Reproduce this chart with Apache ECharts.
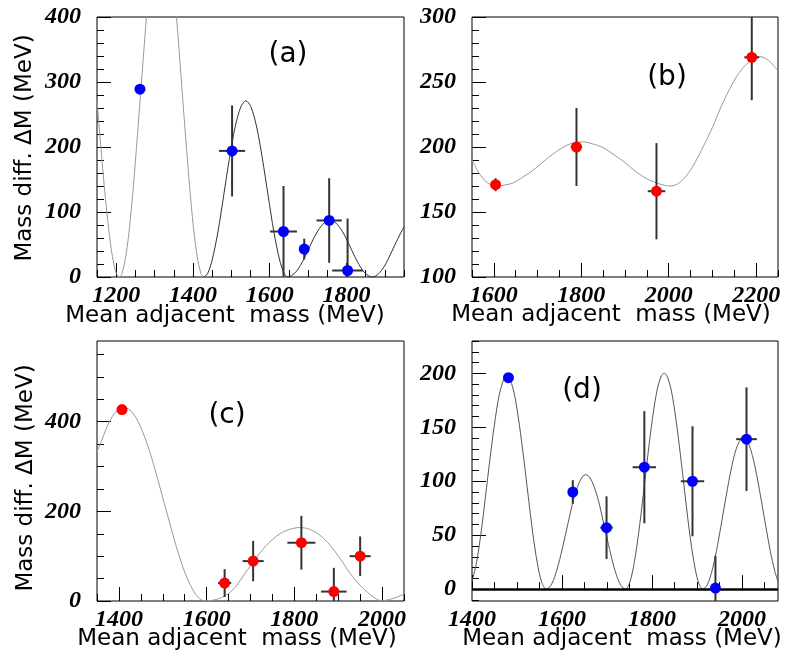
<!DOCTYPE html>
<html><head><meta charset="utf-8">
<script src="https://cdn.jsdelivr.net/npm/echarts@6.0.0/dist/echarts.min.js"></script>
<style>html,body{margin:0;padding:0;background:#fff}#c{width:785px;height:657px}</style>
</head><body><div id="c"></div><script>
// ---------- Panel (a) ----------
const aXTicks = [1200, 1400, 1600, 1800];
const aYTicks = [0, 100, 200, 300, 400];
const aCurveX = [1150,1160,1170,1180,1190,1200,1208,1215,1225,1235,1245,1255,1265,1275,1285,1300,1318,1336,1351,1361,1371,1381,1391,1401,1411,1421,1428,1438,1450,1465,1480,1495,1510,1525,1538,1551,1566,1581,1596,1611,1626,1638,1647,1657,1670,1685,1700,1715,1730,1745,1757,1769,1784,1799,1814,1829,1844,1857,1868,1880,1895,1910,1925,1940,1950];
const aCurveY = [272,200,133,76,32,6,0,5,32,78,141,215,293,371,440,519,555,519,440,371,293,215,141,78,32,5,0,5,26,69,125,182,231,262,271,262,231,182,125,69,26,5,0,2,9,23,41,60,75,85,88,85,75,60,41,23,9,2,0,3,13,29,48,66,77];
const aPtX = [1262, 1502, 1636, 1690, 1755, 1803];
const aPtY = [289, 194, 70, 43, 87, 10];
const aPtXErr = [0, 34, 35, 0, 33, 40];
const aPtYErr = [0, 70, 70, 16, 65, 80];

// ---------- Panel (b) ----------
const bXTicks = [1600, 1800, 2000, 2200];
const bYTicks = [100, 150, 200, 250, 300];
const bCurveX = [1550,1560,1570,1580,1590,1600,1610,1625,1645,1666,1685,1704,1725,1743,1765,1785,1803,1825,1850,1875,1900,1925,1950,1975,1990,2003,2020,2040,2060,2080,2100,2120,2140,2160,2180,2195,2208,2220,2235,2250];
const bCurveY = [190,183.5,178,174,171.5,170.2,170,170.7,172.5,176.7,181,186,192,196.5,201,203.5,204,202.5,199.5,194,188,181,175.5,172,170.6,170,171.5,177.7,188,201,215,231,245,256.6,264.5,268.5,269.5,268.5,264.5,258.6];
const bPtX = [1604, 1789, 1972, 2190];
const bPtY = [171, 200, 166, 269];
const bPtXErr = [10, 13, 20, 17];
const bPtYErr = [5, 30, 37, 33];

// ---------- Panel (c) ----------
const cXTicks = [1400, 1600, 1800, 2000];
const cYTicks = [0, 200, 400];
const cCurveX = [1350,1360,1370,1380,1390,1400,1411,1425,1440,1455,1470,1485,1500,1515,1530,1545,1560,1575,1587,1598,1615,1637,1660,1683,1705,1736,1767,1790,1812,1835,1858,1881,1904,1927,1950,1972,1988,1999,2012,2026,2040,2050];
const cCurveY = [333,356,382,403,419,428,432,426,407,375,334,284,230,177,124,78,41,15,3,0,2,9,25,55,86,124,150,160,164,160,147,125,95,62,35,15,4,0,2.5,6,11,16];
const cPtX = [1407, 1641, 1706, 1816, 1890, 1950];
const cPtY = [427, 40, 89, 130, 21, 100];
const cPtXErr = [0, 15, 24, 32, 29, 24];
const cPtYErr = [0, 31, 45, 60, 53, 44];

// ---------- Panel (d) ----------
const dXTicks = [1400, 1600, 1800, 2000];
const dYTicks = [0, 50, 100, 150, 200];
const dCurveX = [1400,1410,1420,1430,1440,1450,1460,1470,1477,1485,1495,1505,1515,1525,1535,1545,1555,1565,1575,1585,1595,1605,1615,1625,1635,1645,1653,1661,1671,1681,1691,1701,1711,1721,1731,1741,1751,1761,1771,1781,1791,1801,1811,1821,1827,1833,1843,1853,1863,1873,1883,1893,1903,1913,1923,1933,1943,1953,1963,1973,1983,1993,2003,2013,2023,2033,2043,2053,2063,2073,2080];
const dCurveY = [7,24.5,52,86,121,153,179,194,198,194,179,153,121,86,52,24.5,6.3,0,3.3,13,27.7,45.5,64,82,95.4,104,106,104,95.4,82,64,45.5,27.7,13,3.3,0,6.6,25.5,54,89,125,158,184,198,200,198,184,158,125,89,54,25.5,6.6,0,4.2,16.4,35,58,82,105,124,136,140,136,124,105,82,58,35,16.4,7];
const dPtX = [1481, 1624, 1699, 1783, 1890, 1941, 2010];
const dPtY = [196, 90, 57, 113, 100, 1, 139];
const dPtXErr = [0, 0, 14, 26, 26, 0, 23];
const dPtYErr = [0, 11, 29, 52, 51, 30, 48];

const xTitle = 'Mean adjacent  mass (MeV)';
const yTitle = 'Mass diff. \u0394M (MeV)';

function range(a, b, s) { const r = []; for (let v = a; v <= b + 1e-9; v += s) r.push(v); return r; }

const panels = [
  {grid:{left:97,top:17,width:307,height:260}, xMin:1150,xMax:1950,yMin:0,yMax:400,
   xMaj:aXTicks,yMaj:aYTicks,xMinor:range(1150,1950,50),yMinor:range(0,400,20),
   cx:aCurveX,cy:aCurveY,cColor:'#333',cSplit:1428,cColorLeft:'#999',px:aPtX,py:aPtY,pxe:aPtXErr,pye:aPtYErr,pColor:'#0000ff'},
  {grid:{left:472,top:17,width:306,height:260}, xMin:1550,xMax:2250,yMin:100,yMax:300,
   xMaj:bXTicks,yMaj:bYTicks,xMinor:range(1550,2250,50),yMinor:range(100,300,10),
   cx:bCurveX,cy:bCurveY,cColor:'#999',px:bPtX,py:bPtY,pxe:bPtXErr,pye:bPtYErr,pColor:'#ff0000'},
  {grid:{left:97,top:341,width:307,height:260}, xMin:1350,xMax:2050,yMin:0,yMax:580,
   xMaj:cXTicks,yMaj:cYTicks,xMinor:range(1350,2050,50),yMinor:range(0,550,50),
   cx:cCurveX,cy:cCurveY,cColor:'#999',px:cPtX,py:cPtY,pxe:cPtXErr,pye:cPtYErr,pColor:'#ff0000'},
  {grid:{left:472,top:341,width:306,height:260}, xMin:1400,xMax:2080,yMin:-11,yMax:230,
   xMaj:dXTicks,yMaj:dYTicks,xMinor:range(1400,2050,50),yMinor:range(-10,230,10),
   cx:dCurveX,cy:dCurveY,cColor:'#555',px:dPtX,py:dPtY,pxe:dPtXErr,pye:dPtYErr,pColor:'#0000ff',zeroLine:true}
];

const labelFont = {fontFamily:'"Liberation Serif", "DejaVu Serif", serif', fontStyle:'italic', fontWeight:'bold', fontSize:24, color:'#000',
  formatter: function (v) { return String(v); }};
const grids = [], xAxes = [], yAxes = [], series = [];
panels.forEach((p, i) => {
  grids.push(Object.assign({show:true, borderColor:'#000', borderWidth:1, backgroundColor:'transparent'}, p.grid));
  const common = {type:'value', gridIndex:i, axisLine:{show:false}, splitLine:{show:false}};
  xAxes.push(Object.assign({}, common, {min:p.xMin, max:p.xMax, position:'bottom',
    axisTick:{inside:true, length:14, customValues:p.xMaj, lineStyle:{color:'#000', width:1}},
    axisLabel:Object.assign({customValues:p.xMaj, margin:7, hideOverlap:false}, labelFont)}));
  xAxes.push(Object.assign({}, common, {min:p.xMin, max:p.xMax, position:'bottom',
    axisTick:{inside:true, length:7, customValues:p.xMinor, lineStyle:{color:'#000', width:1}},
    axisLabel:{show:false}}));
  yAxes.push(Object.assign({}, common, {min:p.yMin, max:p.yMax, position:'left',
    axisTick:{inside:true, length:14, customValues:p.yMaj, lineStyle:{color:'#000', width:1}},
    axisLabel:Object.assign({customValues:p.yMaj, margin:16, hideOverlap:false}, labelFont)}));
  yAxes.push(Object.assign({}, common, {min:p.yMin, max:p.yMax, position:'left',
    axisTick:{inside:true, length:7, customValues:p.yMinor, lineStyle:{color:'#000', width:1}},
    axisLabel:{show:false}}));
  const pts = p.cx.map((x,k)=>[x,p.cy[k]]);
  const parts = [];
  if (p.cSplit) {
    parts.push({data:pts.filter(d=>d[0]<=p.cSplit), color:p.cColorLeft});
    parts.push({data:pts.filter(d=>d[0]>=p.cSplit), color:p.cColor});
  } else parts.push({data:pts, color:p.cColor});
  parts.forEach((part, j) => {
    const line = {type:'line', xAxisIndex:2*i, yAxisIndex:2*i, showSymbol:false, smooth:0.3, clip:true,
      data:part.data, lineStyle:{color:part.color, width:1}, z:2, silent:true};
    if (p.zeroLine && j===0) {
      line.markLine = {silent:true, symbol:['none','none'], label:{show:false},
        lineStyle:{color:'#000', width:2.5, type:'solid'}, data:[{yAxis:0}]};
    }
    series.push(line);
  });
  series.push({type:'custom', xAxisIndex:2*i, yAxisIndex:2*i, clip:true, z:3,
    dimensions:['x','y','xe','ye'], encode:{x:0, y:1},
    data:p.px.map((x,k)=>[x,p.py[k],p.pxe[k],p.pye[k]]),
    renderItem:function(params, api){
      const x=api.value(0), y=api.value(1), xe=api.value(2), ye=api.value(3);
      const ch=[];
      if (ye>0){const a=api.coord([x,y-ye]), b=api.coord([x,y+ye]);
        ch.push({type:'line', shape:{x1:a[0],y1:a[1],x2:b[0],y2:b[1]}, style:{stroke:'#333', lineWidth:2}});}
      if (xe>0){const a=api.coord([x-xe,y]), b=api.coord([x+xe,y]);
        ch.push({type:'line', shape:{x1:a[0],y1:a[1],x2:b[0],y2:b[1]}, style:{stroke:'#333', lineWidth:2}});}
      return {type:'group', children:ch};
    }});
  series.push({type:'scatter', xAxisIndex:2*i, yAxisIndex:2*i, symbolSize:11, z:5,
    itemStyle:{color:p.pColor, opacity:1}, data:p.px.map((x,k)=>[x,p.py[k]])});
});

const tf = {fontFamily:'DejaVu Sans', fill:'#000', align:'center', verticalAlign:'middle'};
const graphic = [
  {type:'text', x:225, y:316, style:Object.assign({text:xTitle, fontSize:23}, tf)},
  {type:'text', x:611, y:315, style:Object.assign({text:xTitle, fontSize:23}, tf)},
  {type:'text', x:237, y:639, style:Object.assign({text:xTitle, fontSize:23}, tf)},
  {type:'text', x:622, y:639, style:Object.assign({text:xTitle, fontSize:23}, tf)},
  {type:'text', x:25, y:148, rotation:Math.PI/2, style:Object.assign({text:yTitle, fontSize:23}, tf)},
  {type:'text', x:26, y:478, rotation:Math.PI/2, style:Object.assign({text:yTitle, fontSize:23}, tf)},
  {type:'text', x:288, y:55, style:Object.assign({text:'(a)', fontSize:28}, tf)},
  {type:'text', x:667, y:78, style:Object.assign({text:'(b)', fontSize:28}, tf)},
  {type:'text', x:227, y:416, style:Object.assign({text:'(c)', fontSize:28}, tf)},
  {type:'text', x:582, y:391, style:Object.assign({text:'(d)', fontSize:28}, tf)}
];

const chart = echarts.init(document.getElementById('c'), null, {renderer:'canvas'});
chart.setOption({animation:false, backgroundColor:'#fff', grid:grids, xAxis:xAxes, yAxis:yAxes, series:series, graphic:graphic});
</script></body></html>
